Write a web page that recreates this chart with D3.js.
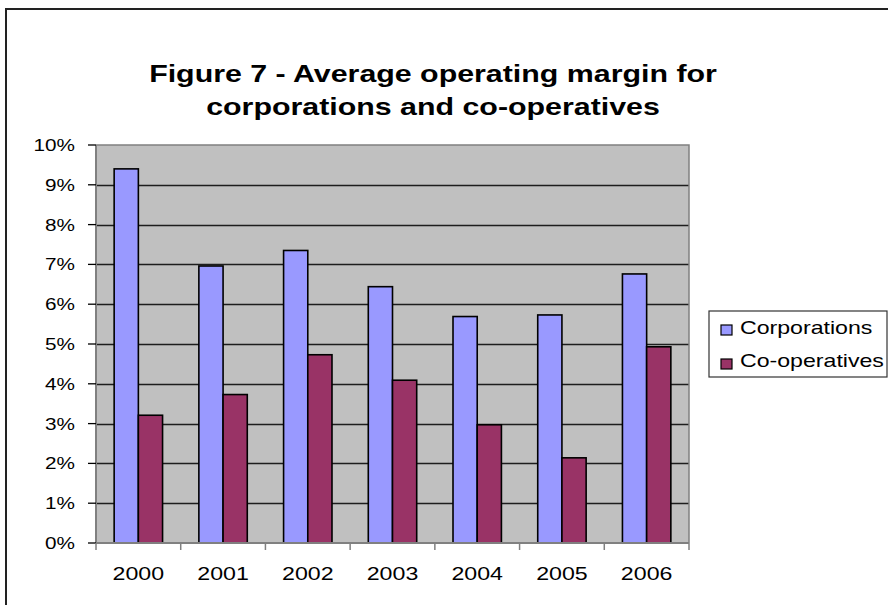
<!DOCTYPE html>
<html><head><meta charset="utf-8">
<script src="https://cdn.jsdelivr.net/npm/d3@7"></script>
<style>body{margin:0;background:#fff}svg{display:block}text{font-family:"Liberation Sans",Arial,sans-serif}</style>
</head><body><svg id="c" width="888" height="605"></svg>
<script>
const years = ["2000","2001","2002","2003","2004","2005","2006"];
const corporations = [9.40, 6.96, 7.35, 6.44, 5.69, 5.73, 6.76];
const cooperatives = [3.21, 3.73, 4.73, 4.09, 2.97, 2.14, 4.93];
const seriesNames = ["Corporations","Co-operatives"];
const seriesColors = ["#9999FF","#993366"];
const yTicks = [0,1,2,3,4,5,6,7,8,9,10];
const titleLines = ["Figure 7 - Average operating margin for","corporations and co-operatives"];

const SX = 1.22;
const svg = d3.select("#c");
const W = 888, H = 605;
const plot = {l:96, r:689, t:145, b:543};

// outer chart border
svg.append("rect").attr("x",6).attr("y",9).attr("width",W).attr("height",H)
  .attr("fill","#fff").attr("stroke","#222").attr("stroke-width",2);

function stext(x,y,str,size,anchor,weight,sx){
  const g = svg.append("g").attr("transform",`translate(${x},${y}) scale(${sx||SX},1)`);
  return g.append("text").attr("x",0).attr("y",0).attr("font-size",size)
    .attr("text-anchor",anchor).attr("font-weight",weight||"normal").attr("fill","#000").text(str);
}

// title
titleLines.forEach((t,i)=> stext(433, 82 + i*33, t, 23, "middle", "bold", 1.32));

const x = d3.scaleBand().domain(years).range([plot.l, plot.r]).paddingInner(0).paddingOuter(0);
const y = d3.scaleLinear().domain([0,10]).range([plot.b, plot.t]);

// plot background
svg.append("rect").attr("x",plot.l).attr("y",plot.t).attr("width",plot.r-plot.l).attr("height",plot.b-plot.t)
  .attr("fill","#C0C0C0");

// gridlines
svg.append("g").selectAll("line").data(yTicks.filter(d=>d>0 && d<10)).join("line")
  .attr("x1",plot.l).attr("x2",plot.r).attr("y1",d=>Math.round(y(d))+0.5).attr("y2",d=>Math.round(y(d))+0.5)
  .attr("stroke","#000").attr("stroke-width",1.3).attr("stroke-opacity",0.85);

// plot border (top/right)
svg.append("path").attr("d",`M${plot.l},${plot.t}H${plot.r}V${plot.b}`).attr("fill","none")
  .attr("stroke","#808080").attr("stroke-width",1.5);

// bars
const gap = 1.5; // excel gap width 150%
const bw = x.bandwidth()/(2+gap);
const series = [corporations, cooperatives];
series.forEach((vals,si)=>{
  svg.append("g").selectAll("rect").data(years).join("rect")
    .attr("x",(d)=> x(d) + bw*gap/2 + si*bw)
    .attr("y",(d,i)=> y(vals[i]))
    .attr("width",bw)
    .attr("height",(d,i)=> y(0)-y(vals[i]))
    .attr("fill",seriesColors[si]).attr("stroke","#000").attr("stroke-width",1.6);
});

// y axis
const yAxis = svg.append("g");
yAxis.append("line").attr("x1",plot.l).attr("x2",plot.l).attr("y1",plot.t).attr("y2",plot.b)
  .attr("stroke","#808080").attr("stroke-width",2);
yAxis.selectAll("line.t").data(yTicks).join("line").attr("class","t")
  .attr("x1",plot.l-8).attr("x2",plot.l).attr("y1",d=>y(d)).attr("y2",d=>y(d))
  .attr("stroke","#000").attr("stroke-width",1.3);
yTicks.forEach(d=> stext(75, y(d)+6, d+"%", 17, "end"));

// x axis
svg.append("line").attr("x1",plot.l).attr("x2",plot.r).attr("y1",plot.b).attr("y2",plot.b)
  .attr("stroke","#808080").attr("stroke-width",2);
const bounds = years.map(d=>x(d)).concat([plot.r]);
svg.append("g").selectAll("line").data(bounds).join("line")
  .attr("x1",d=>d).attr("x2",d=>d).attr("y1",plot.b).attr("y2",plot.b+7)
  .attr("stroke","#808080").attr("stroke-width",1.5);
years.forEach(d=> stext(x(d)+x.bandwidth()/2, 580, d, 19, "middle"));

// legend
svg.append("rect").attr("x",709).attr("y",311).attr("width",178).attr("height",66)
  .attr("fill","#fff").attr("stroke","#333").attr("stroke-width",1.2);
seriesNames.forEach((n,i)=>{
  svg.append("rect").attr("x",721).attr("y",325+i*34).attr("width",11).attr("height",10)
    .attr("fill",seriesColors[i]).attr("stroke","#000").attr("stroke-width",1.2);
  stext(740, 334+i*33, n, 18.5, "start", "normal", 1.25);
});
</script></body></html>
